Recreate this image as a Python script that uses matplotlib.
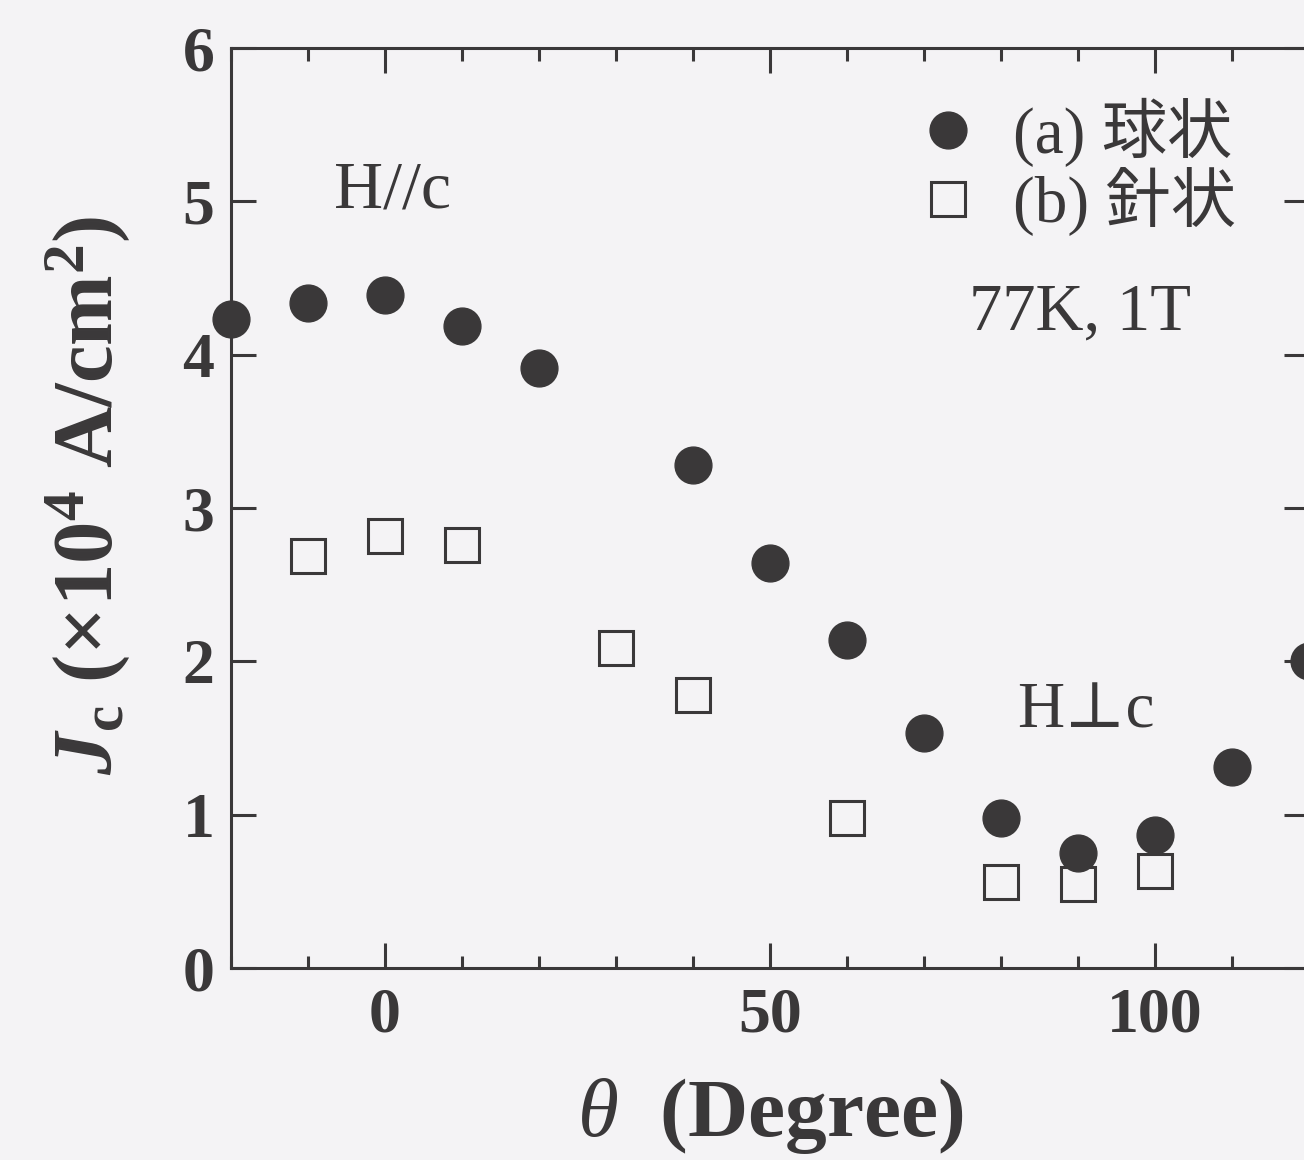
import matplotlib
matplotlib.use("Agg")
import matplotlib.pyplot as plt
from matplotlib.ticker import MultipleLocator

# Critical current density vs. field angle, 77 K, 1 T
theta_a = [-20, -10, 0, 10, 20, 40, 50, 60, 70, 80, 90, 100, 110, 120]
jc_a = [4.23, 4.34, 4.39, 4.19, 3.91, 3.28, 2.64, 2.14, 1.53, 0.98, 0.75, 0.87, 1.31, 2.00]

theta_b = [-10, 0, 10, 30, 40, 60, 80, 90, 100]
jc_b = [2.69, 2.82, 2.76, 2.09, 1.78, 0.98, 0.56, 0.55, 0.63]

label_a = "(a) 球状"
label_b = "(b) 針状"

bg = "#f4f3f5"
ink = "#3a3839"

plt.rcParams["mathtext.fontset"] = "custom"
plt.rcParams["mathtext.rm"] = "Liberation Serif:bold"
plt.rcParams["mathtext.bf"] = "Liberation Serif:bold"
plt.rcParams["mathtext.it"] = "Liberation Serif:italic"
plt.rcParams["mathtext.sf"] = "Liberation Serif:italic:bold"

fig = plt.figure(figsize=(13.04, 11.6), dpi=100, facecolor=bg)
ax = fig.add_axes([0.1771, 0.1655, 0.8267, 0.7931], facecolor=bg)

ax.plot(theta_a, jc_a, linestyle="none", marker="o", markersize=26.5,
        markerfacecolor=ink, markeredgecolor=ink, label=label_a, clip_on=False)
ax.plot(theta_b, jc_b, linestyle="none", marker="s", markersize=24,
        markerfacecolor="none", markeredgecolor=ink, markeredgewidth=2.2,
        label=label_b, clip_on=False)

ax.set_xlim(-20, 120)
ax.set_ylim(0, 6)
ax.xaxis.set_major_locator(MultipleLocator(50))
ax.xaxis.set_minor_locator(MultipleLocator(10))
ax.yaxis.set_major_locator(MultipleLocator(1))

for s in ax.spines.values():
    s.set_color(ink)
    s.set_linewidth(2.2)

ax.tick_params(which="both", direction="in", top=True, right=True, color=ink, width=2.2)
ax.tick_params(which="major", length=18)
ax.tick_params(which="minor", length=9)
ax.tick_params(axis="x", which="major", pad=14)
ax.tick_params(axis="y", which="major", pad=12)
for t in ax.get_xticklabels() + ax.get_yticklabels():
    t.set_fontfamily("Liberation Serif")
    t.set_fontweight("bold")
    t.set_fontsize(46)
    t.set_color(ink)

ax.set_xlabel(r"$\theta$  (Degree)", fontsize=60, fontfamily="Liberation Serif",
              fontweight="bold", color=ink, labelpad=22)
ax.set_ylabel(r"$\mathsf{J}_{\rm c}$ (×10$^{\bf 4}$ A/cm$^{\bf 2}$)", fontsize=61,
              fontfamily="Liberation Serif", fontweight="bold", color=ink)
ax.yaxis.set_label_coords(-0.092, 0.514)

serif = ["Liberation Serif", "DejaVu Serif"]
ax.text(1, 5.07, "H//c", fontsize=49, family=serif, color=ink, va="center", ha="center")
ax.text(91, 1.67, "H⊥c", fontsize=47, family=serif, color=ink, va="center", ha="center")
ax.text(90.3, 4.27, "77K, 1T", fontsize=48, family=serif, color=ink, va="center", ha="center")

leg = ax.legend(loc="upper right", bbox_to_anchor=(0.957, 0.974), frameon=False,
                prop={"family": ["Liberation Serif", "Noto Sans CJK JP"], "size": 47},
                handletextpad=0.5, handlelength=1.0, labelspacing=0.0, borderaxespad=0,
                markerscale=1.0)
for t in leg.get_texts():
    t.set_color(ink)

fig.savefig("out.png", dpi=100, facecolor=bg)
